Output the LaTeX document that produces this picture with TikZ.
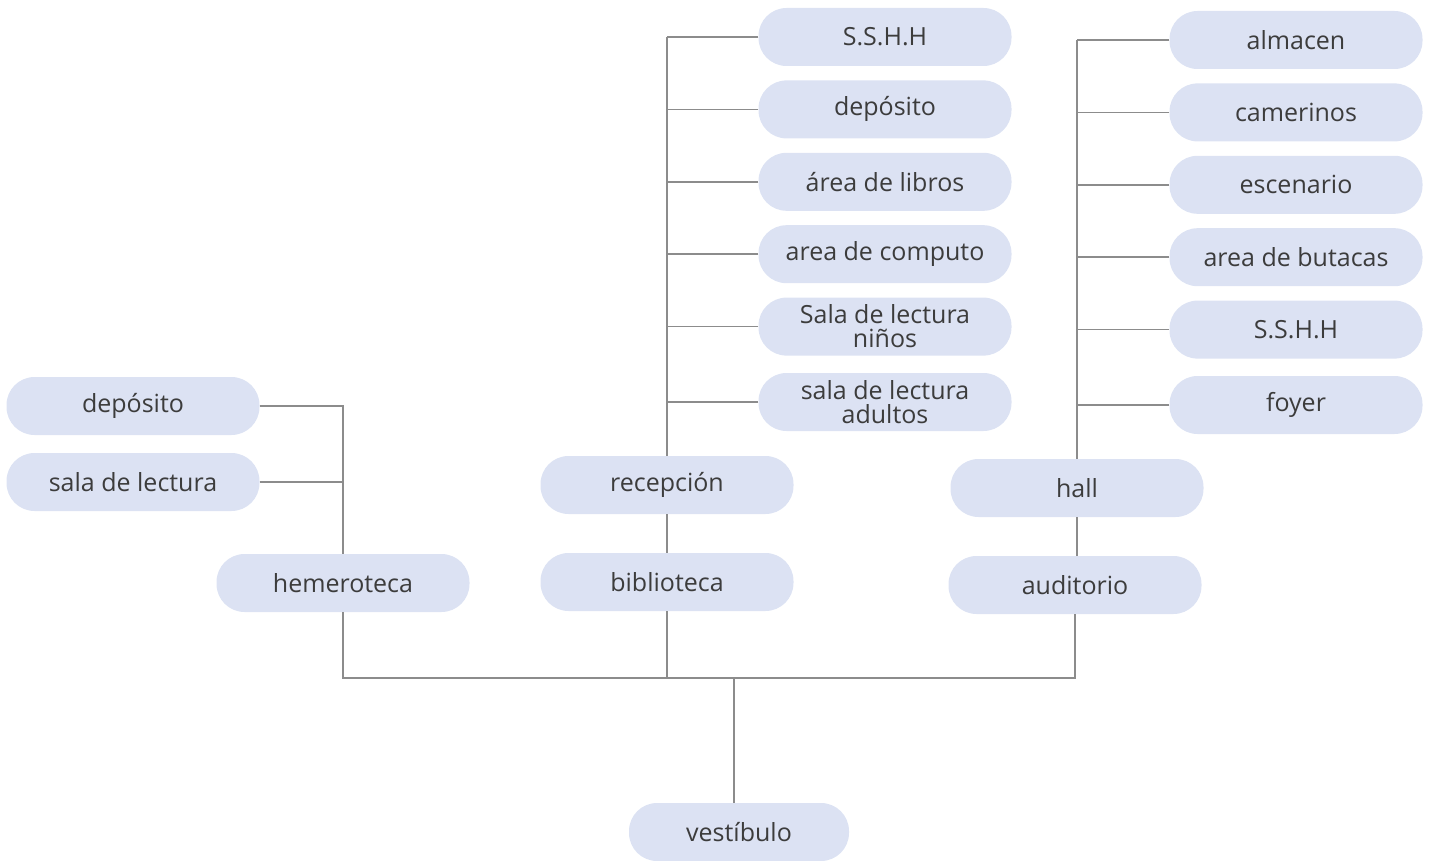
\documentclass[tikz,border=0pt]{standalone}
\usepackage{fontspec}
\setmainfont{Open Sans}
\usetikzlibrary{positioning}
\definecolor{pillblue}{HTML}{DCE2F3}
\definecolor{linegray}{HTML}{8C8C8C}
\definecolor{textgray}{HTML}{3C3C3C}

\begin{document}
\begin{tikzpicture}[x=1pt, y=-1pt, node distance=14pt, every node/.style={fill=pillblue, rounded corners=28pt, minimum width=253pt, minimum height=58pt, inner sep=0pt, align=center, text=textgray, font=\fontsize{25}{24}\selectfont}, conn/.style={draw=linegray, line width=1.6pt}]
\useasboundingbox (0,0) rectangle (1429,861);
% hemeroteca
\node (depositoH) at (133,406) {depósito};
\node (salaH) at (133,482) {sala de lectura};
\node (hemeroteca) at (343,583) {hemeroteca};
% biblioteca
\node (sshB) at (885,37) {S.S.H.H};
\node (depositoB) [below=of sshB] {depósito};
\node (libros) [below=of depositoB] {área de libros};
\node (computo) [below=of libros] {area de computo};
\node (ninos) [below=of computo] {Sala de lectura\\niños};
\node (adultos) [below=17pt of ninos] {sala de lectura\\adultos};
\node (recepcion) at (667,485) {recepción};
\node (biblioteca) at (667,582) {biblioteca};
% auditorio
\node (almacen) at (1296,40) {almacen};
\node (camerinos) [below=of almacen] {camerinos};
\node (escenario) [below=of camerinos] {escenario};
\node (butacas) [below=of escenario] {area de butacas};
\node (sshA) [below=of butacas] {S.S.H.H};
\node (foyer) [below=17pt of sshA] {foyer};
\node (hall) at (1077,488) {hall};
\node (auditorio) at (1075,585) {auditorio};
\node (vestibulo) [minimum width=220pt] at (739,832) {vestíbulo};
\coordinate (bus) at (734,678);
% connectors
\draw[conn] (depositoH.east) -| (hemeroteca.north);
\draw[conn] (salaH.east) -- (salaH.east -| hemeroteca.north);
\draw[conn] (sshB.west -| recepcion.north) -- (recepcion.north);
\foreach \n in {sshB,depositoB,libros,computo,ninos,adultos}
  \draw[conn] (\n.west) -- (\n.west -| recepcion.north);
\draw[conn] (recepcion.south) -- (biblioteca.north);
\draw[conn] (almacen.west -| hall.north) -- (hall.north);
\foreach \n in {almacen,camerinos,escenario,butacas,sshA,foyer}
  \draw[conn] (\n.west) -- (\n.west -| hall.north);
\draw[conn] (hall.south) -- (hall.south |- auditorio.north);
\draw[conn] (hemeroteca.south) -- (hemeroteca.south |- bus) -- (auditorio.south |- bus) -- (auditorio.south);
\draw[conn] (biblioteca.south) -- (biblioteca.south |- bus);
\draw[conn] (bus) -- (bus |- vestibulo.north);
\end{tikzpicture}
\end{document}
